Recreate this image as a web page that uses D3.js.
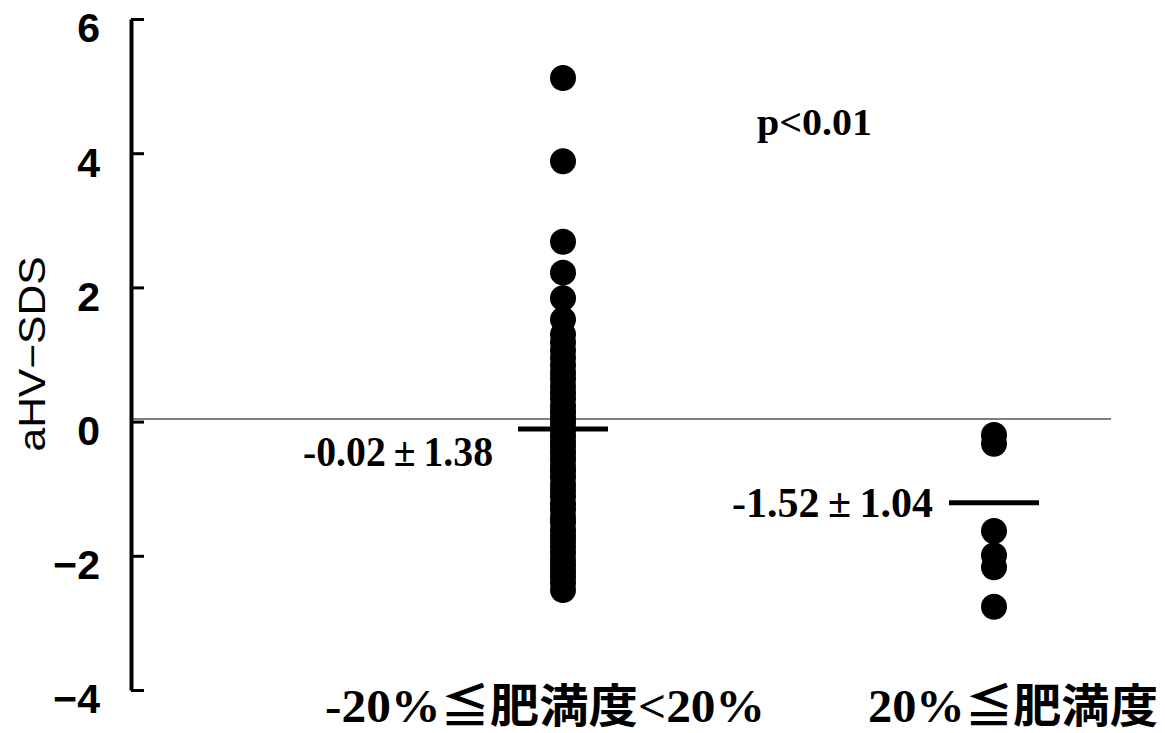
<!DOCTYPE html>
<html>
<head>
<meta charset="utf-8">
<script src="https://cdn.jsdelivr.net/npm/d3@7"></script>
<style>
  body { margin: 0; background: #fff; }
</style>
</head>
<body>
<script>
// Groups and values
var groups = ["-20%≦肥満度<20%", "20%≦肥満度"];
var normalValues = [5.12, 3.88, 2.68, 2.22, 1.84, 1.52, 1.3, 1.18, 1.06, 0.95, 0.84,
  0.73, 0.64, 0.53, 0.43, 0.34, 0.23, 0.14, 0.05, -0.03, -0.12, -0.21, -0.3, -0.38,
  -0.47, -0.56, -0.66, -0.74, -0.83, -0.94, -1.03, -1.12, -1.23, -1.31, -1.42, -1.5,
  -1.61, -1.7, -1.78, -1.87, -1.96, -2.06, -2.14, -2.23, -2.31, -2.4, -2.51];
var obeseValues = [-0.2, -0.33, -1.63, -1.99, -2.17, -2.76];
var meanLevels = [-0.11, -1.21];          // where the mean bars are drawn
var statLabels = ["-0.02\u2009±\u20091.38", "-1.52\u2009±\u20091.04"];
var zeroLevel = 0.04;                     // thin reference line
var yTicks = [-4, -2, 0, 2, 4, 6];
var pText = "p<0.01";

var width = 1165, height = 733;
var axisX = 131, lineEnd = 1111;

var svg = d3.select("body").append("svg")
    .attr("width", width)
    .attr("height", height);

var y = d3.scaleLinear().domain([-4, 6]).range([690, 19]);
var x = d3.scalePoint().domain(groups).range([563, 994]);

// reference line near zero
svg.append("line")
    .attr("x1", axisX).attr("x2", lineEnd)
    .attr("y1", y(zeroLevel)).attr("y2", y(zeroLevel))
    .attr("stroke", "#555").attr("stroke-width", 1.5);

// y axis
var yAxis = svg.append("g")
    .attr("transform", "translate(" + axisX + ",0)")
    .call(d3.axisLeft(y).tickValues(yTicks).tickSizeInner(-13).tickSizeOuter(0).tickPadding(31));
yAxis.select(".domain").attr("stroke", "#000").attr("stroke-width", 4);
yAxis.selectAll(".tick line").attr("stroke", "#000").attr("stroke-width", 3);
yAxis.selectAll(".tick text")
    .attr("dy", "0.56em")
    .style("font-family", "'Liberation Sans', Arial, sans-serif")
    .style("font-weight", "bold")
    .style("font-size", "41px")
    .attr("fill", "#000");

// y label
svg.append("text")
    .attr("transform", "translate(45,354) rotate(-90)")
    .attr("text-anchor", "middle")
    .attr("textLength", 195)
    .attr("lengthAdjust", "spacingAndGlyphs")
    .style("font-family", "'Liberation Sans', Arial, sans-serif")
    .style("font-size", "37px")
    .text("aHV−SDS");

// dots
var points = normalValues.map(v => ({g: groups[0], v: v}))
    .concat(obeseValues.map(v => ({g: groups[1], v: v})));

svg.selectAll(".dot")
    .data(points)
    .enter().append("circle")
    .attr("class", "dot")
    .attr("cx", d => x(d.g))
    .attr("cy", d => y(d.v))
    .attr("r", 13)
    .attr("fill", "#000");

// mean bars
svg.selectAll(".mean")
    .data(groups)
    .enter().append("line")
    .attr("class", "mean")
    .attr("x1", d => x(d) - 45)
    .attr("x2", d => x(d) + 45)
    .attr("y1", (d, i) => y(meanLevels[i]))
    .attr("y2", (d, i) => y(meanLevels[i]))
    .attr("stroke", "#000")
    .attr("stroke-width", 5);

// mean ± sd labels
var statOffsets = [{dx: -70, dy: 37, len: 190}, {dx: -61, dy: 14, len: 201}];
svg.selectAll(".stat")
    .data(groups)
    .enter().append("text")
    .attr("class", "stat")
    .attr("x", (d, i) => x(d) + statOffsets[i].dx)
    .attr("y", (d, i) => y(meanLevels[i]) + statOffsets[i].dy)
    .attr("text-anchor", "end")
    .attr("textLength", (d, i) => statOffsets[i].len)
    .attr("lengthAdjust", "spacingAndGlyphs")
    .style("font-family", "'Liberation Serif', 'Times New Roman', serif")
    .style("font-weight", "bold")
    .style("font-size", "43px")
    .text((d, i) => statLabels[i]);

// p value
svg.append("text")
    .attr("x", 757).attr("y", 135)
    .attr("textLength", 115)
    .attr("lengthAdjust", "spacingAndGlyphs")
    .style("font-family", "'Liberation Serif', 'Times New Roman', serif")
    .style("font-weight", "bold")
    .style("font-size", "37px")
    .text(pText);

// category labels
var labelOffsets = [{dx: -18, len: 440}, {dx: 19, len: 290}];
svg.selectAll(".cat")
    .data(groups)
    .enter().append("text")
    .attr("class", "cat")
    .attr("x", (d, i) => x(d) + labelOffsets[i].dx)
    .attr("y", 722)
    .attr("text-anchor", "middle")
    .attr("textLength", (d, i) => labelOffsets[i].len)
    .attr("lengthAdjust", "spacingAndGlyphs")
    .style("font-family", "'Liberation Serif', 'Noto Sans CJK JP', serif")
    .style("font-weight", "bold")
    .style("font-size", "46px")
    .text(d => d);
</script>
</body>
</html>
